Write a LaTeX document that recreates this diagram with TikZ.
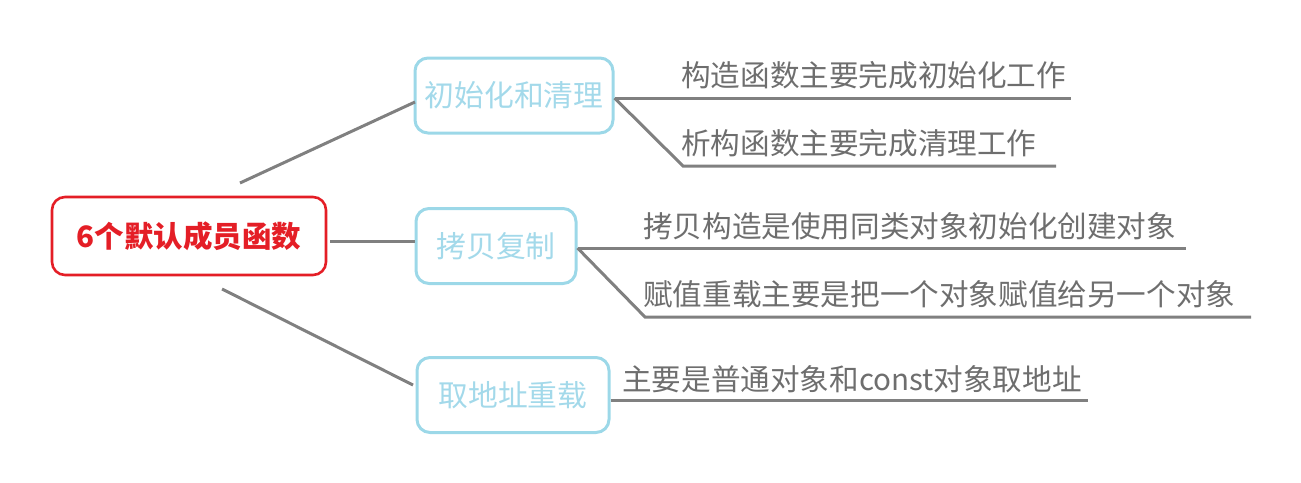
\documentclass[tikz,border=0pt]{standalone}
\usepackage{fontspec}
\setmainfont{Noto Sans CJK SC}
\usetikzlibrary{calc}
\definecolor{rootred}{HTML}{E41E26}
\definecolor{boxblue}{HTML}{9CD8E8}
\definecolor{boxtext}{HTML}{A3D9EA}
\definecolor{leaftext}{HTML}{6E6E6E}
\definecolor{linegray}{HTML}{808080}
\tikzset{
  rootbox/.style={draw=rootred, line width=2.6pt, rounded corners=13pt, text=rootred,
    minimum width=274pt, minimum height=78pt, inner sep=0pt,
    font=\fontsize{29.5}{32}\selectfont\bfseries},
  branchbox/.style={draw=boxblue, line width=3pt, rounded corners=13pt, text=boxtext,
    minimum height=75pt, inner sep=0pt, font=\fontsize{29.8}{32}\selectfont},
  leaf/.style={anchor=west, inner sep=0pt, text=leaftext, font=\fontsize{29.6}{32}\selectfont},
  conn/.style={draw=linegray, line width=3pt}
}
\begin{document}
\begin{tikzpicture}[x=1pt, y=-1pt]
\useasboundingbox (0,0) rectangle (1301,482);
% root and branch boxes
\node[rootbox] (root) at (189,236) {6个默认成员函数};
\node[branchbox, minimum width=198pt] (b1) at (514,95.5) {初始化和清理};
\node[branchbox, minimum width=160pt] (b2) at (496,246) {拷贝复制};
\node[branchbox, minimum width=192pt] (b3) at (513,395) {取地址重载};
% leaf texts
\node[leaf] (l1) at (681,75) {构造函数主要完成初始化工作};
\node[leaf] (l2) at (681,143) {析构函数主要完成清理工作};
\node[leaf] (l3) at (643,226) {拷贝构造是使用同类对象初始化创建对象};
\node[leaf] (l4) at (643,294) {赋值重载主要是把一个对象赋值给另一个对象};
\node[leaf] (l5) at (622,379) {主要是普通对象和const对象取地址};
% connector endpoints
\coordinate (r1) at (240,183);
\coordinate (r2) at (330,241);
\coordinate (r3) at (222,289);
\coordinate (e1) at (415,102);
\coordinate (e3) at (413,385);
\coordinate (u1e) at (1071,98);
\coordinate (u2s) at (683,166);
\coordinate (u2e) at (1056,166);
\coordinate (u3e) at (1186,248);
\coordinate (u4s) at (645,317);
\coordinate (u4e) at (1251,317);
\coordinate (u5e) at (1088,400);
% root connectors
\draw[conn] (r1) -- (e1);
\draw[conn] (r2) -- (b2.west |- r2);
\draw[conn] (r3) -- (e3);
% leaf connectors
\draw[conn] (b1.east |- 0,98) -- (u1e);
\draw[conn] (b1.east |- 0,98) -- (u2s) -- (u2e);
\draw[conn] (b2.east |- 0,248) -- (u3e);
\draw[conn] (b2.east |- 0,248) -- (u4s) -- (u4e);
\draw[conn] (b3.east |- 0,400) -- (u5e);
\end{tikzpicture}
\end{document}
